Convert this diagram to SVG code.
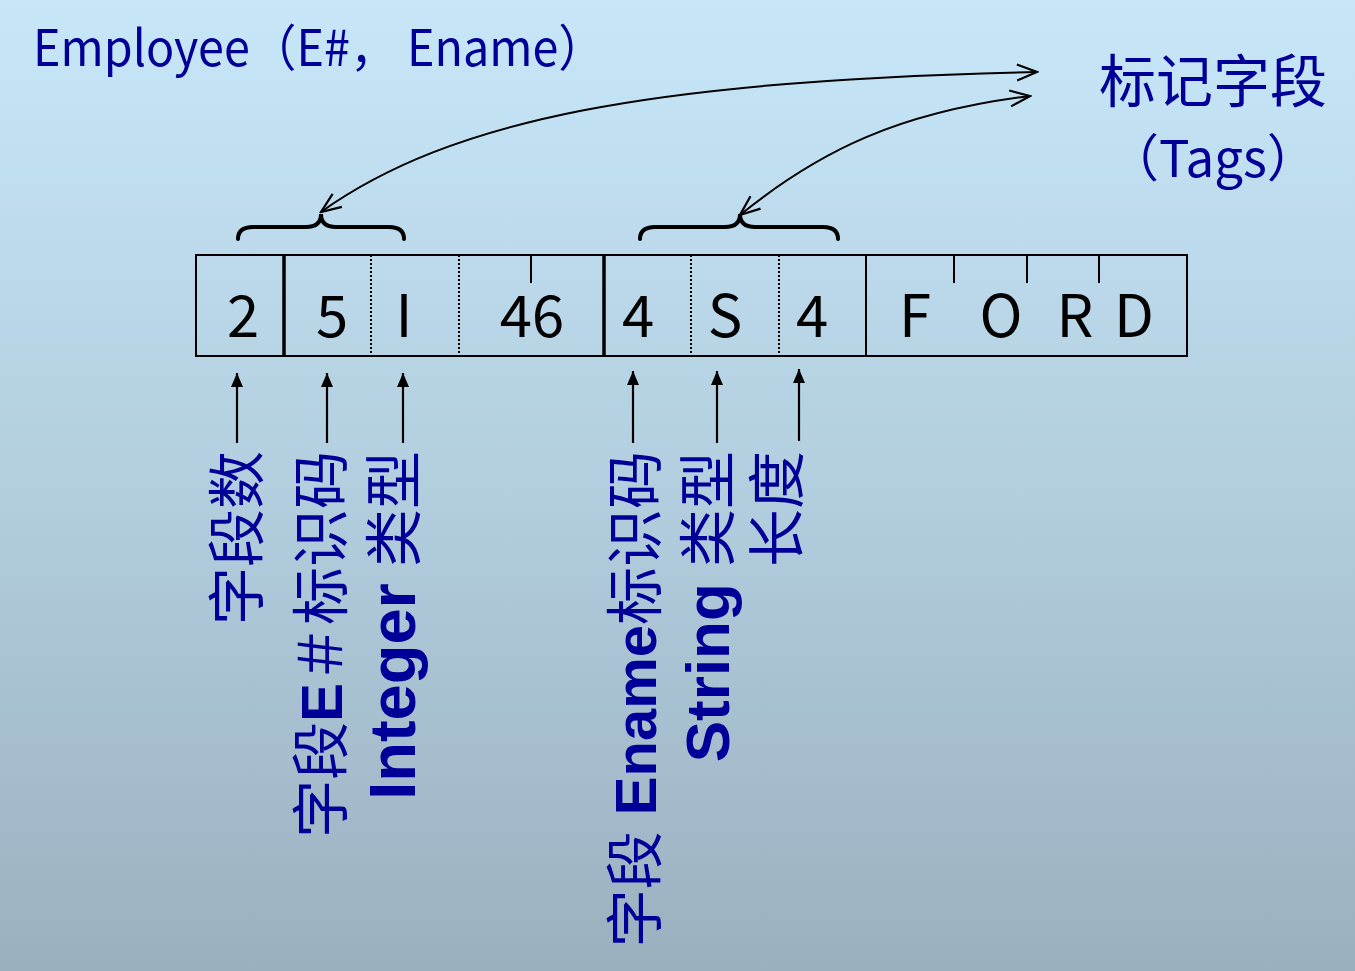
<svg xmlns="http://www.w3.org/2000/svg" width="1355" height="971" viewBox="0 0 1355 971">
<defs>
<linearGradient id="bg" x1="0" y1="0" x2="0" y2="1">
<stop offset="0" stop-color="#C7E7F9"/>
<stop offset="0.5" stop-color="#B2CEDF"/>
<stop offset="1" stop-color="#9BB0BF"/>
</linearGradient>
<marker id="vee" viewBox="-22 -10 24 20" refX="0" refY="0" markerWidth="24" markerHeight="20" markerUnits="userSpaceOnUse" orient="auto-start-reverse">
<path d="M-20,-8 L0,0 L-20,8" fill="none" stroke="#000" stroke-width="2.2"/>
</marker>
<marker id="tri" viewBox="-14 -6 14 12" refX="0" refY="0" markerWidth="14" markerHeight="12" markerUnits="userSpaceOnUse" orient="auto">
<path d="M-14,-6 L0,0 L-14,6 Z" fill="#000"/>
</marker>
<style>
.blue{fill:#000099;font-family:"Noto Sans CJK SC","Liberation Sans",sans-serif;}
.vt{fill:#000099;font-family:"Liberation Sans","Noto Sans CJK SC",sans-serif;font-size:58px;}
.b{font-weight:bold;}
.cell{fill:#000;font-family:"Noto Sans CJK SC","DejaVu Sans",sans-serif;font-size:58px;text-anchor:middle;}
.ln{stroke:#000;stroke-width:2;fill:none;}
.thick{stroke:#000;stroke-width:3.5;fill:none;}
.dot{stroke:#000;stroke-width:2;stroke-dasharray:2 2;fill:none;}
.brace{stroke:#000;stroke-width:4;fill:none;stroke-linecap:round;}
.curve{stroke:#000;stroke-width:2;fill:none;marker-start:url(#vee);marker-end:url(#vee);}
.up{stroke:#000;stroke-width:2.2;fill:none;marker-end:url(#tri);}
</style>
</defs>
<rect width="1355" height="971" fill="url(#bg)"/>

<g id="title">
<text class="blue" x="33" y="66" font-size="50" textLength="572" lengthAdjust="spacingAndGlyphs">Employee（E#， Ename）</text>
</g>

<g id="tags">
<text class="blue" x="1213" y="102" font-size="57" text-anchor="middle">标记字段</text>
<text class="blue" x="1213" y="177" font-size="51" text-anchor="middle">（Tags）</text>
</g>

<g id="record">
<rect x="196" y="255" width="991" height="101" class="ln"/>
<line x1="284" y1="255" x2="284" y2="356" class="thick"/>
<line x1="371" y1="255" x2="371" y2="356" class="dot"/>
<line x1="459" y1="255" x2="459" y2="356" class="dot"/>
<line x1="531" y1="255" x2="531" y2="283" class="ln"/>
<line x1="604" y1="255" x2="604" y2="356" class="thick"/>
<line x1="691" y1="255" x2="691" y2="356" class="dot"/>
<line x1="779" y1="255" x2="779" y2="356" class="dot"/>
<line x1="866" y1="255" x2="866" y2="356" class="ln"/>
<line x1="954" y1="255" x2="954" y2="283" class="ln"/>
<line x1="1027" y1="255" x2="1027" y2="283" class="ln"/>
<line x1="1099" y1="255" x2="1099" y2="283" class="ln"/>
<text class="cell" x="243" y="337">2</text>
<text class="cell" x="332" y="337">5</text>
<text class="cell" x="404" y="337">I</text>
<text class="cell" x="532" y="337">46</text>
<text class="cell" x="638" y="337">4</text>
<text class="cell" x="725" y="337">S</text>
<text class="cell" x="812" y="337">4</text>
<text class="cell" x="915" y="337">F</text>
<text class="cell" x="1001" y="337">O</text>
<text class="cell" x="1075" y="337">R</text>
<text class="cell" x="1134" y="337">D</text>
</g>

<g id="braces">
<path class="brace" d="M238,239 Q238,227 253,227 L306,227 Q321,227 321,214 Q321,227 336,227 L389,227 Q404,227 404,239"/>
<path class="brace" d="M640,239 Q640,227 655,227 L725,227 Q740,227 740,214 Q740,227 755,227 L823,227 Q838,227 838,239"/>
</g>

<g id="connectors">
<path class="curve" d="M321,212 C450,120 650,80 1037,72"/>
<path class="curve" d="M740,215 C820,150 900,112 1030,96"/>
<line class="up" x1="237" y1="443" x2="237" y2="373"/>
<line class="up" x1="327" y1="443" x2="327" y2="373"/>
<line class="up" x1="403" y1="443" x2="403" y2="373"/>
<line class="up" x1="633" y1="443" x2="633" y2="371"/>
<line class="up" x1="717" y1="443" x2="717" y2="371"/>
<line class="up" x1="799" y1="441" x2="799" y2="369"/>
</g>

<g id="labels">
<text class="vt" transform="translate(258,451) rotate(-90)" text-anchor="end">字段数</text>
<text class="vt" transform="translate(342,451) rotate(-90)" text-anchor="end">字段<tspan class="b">E</tspan>＃标识码</text>
<text class="vt" transform="translate(415,451) rotate(-90)" text-anchor="end"><tspan class="b" font-size="65">Integer</tspan> 类型</text>
<text class="vt" transform="translate(656,451) rotate(-90)" text-anchor="end">字段 <tspan class="b">Ename</tspan>标识码</text>
<text class="vt" transform="translate(729,451) rotate(-90)" text-anchor="end"><tspan class="b" font-size="62">String</tspan> 类型</text>
<text class="vt" transform="translate(798,451) rotate(-90)" text-anchor="end">长度</text>
</g>
</svg>
